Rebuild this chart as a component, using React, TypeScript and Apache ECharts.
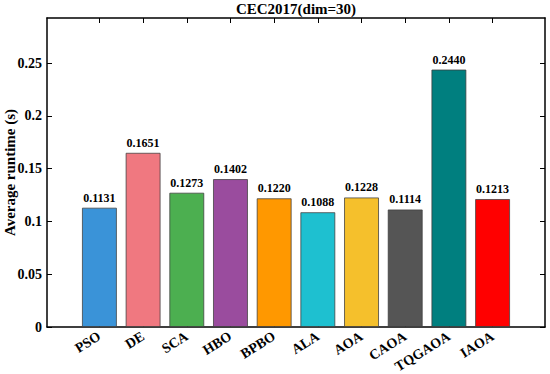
import React, { useEffect, useRef } from "react";
import * as echarts from "echarts";

const categories = ["PSO", "DE", "SCA", "HBO", "BPBO", "ALA", "AOA", "CAOA", "TQGAOA", "IAOA"];
const runtimes = [0.1131, 0.1651, 0.1273, 0.1402, 0.122, 0.1088, 0.1228, 0.1114, 0.244, 0.1213];
const barColors = ["#3a93d8", "#f07880", "#4caf50", "#9a4c9e", "#ff9800", "#1ec0d0", "#f5c02c", "#555555", "#007f7f", "#ff0000"];
const yTicks = [0, 0.05, 0.1, 0.15, 0.2, 0.25];

const FONT = "'Liberation Serif', 'Times New Roman', serif";

export default function App() {
  const ref = useRef<HTMLDivElement>(null);
  useEffect(() => {
    document.body.style.margin = "0";
    const chart = echarts.init(ref.current!, null, { renderer: "svg" });
    const positions = categories.map((_, i) => i);
    const axisLine = { show: true, onZero: false, lineStyle: { color: "#000", width: 1.5 } };
    chart.setOption({
      animation: false,
      backgroundColor: "#ffffff",
      title: {
        text: "CEC2017(dim=30)",
        left: 296,
        textAlign: "center",
        top: 1,
        padding: 0,
        textStyle: { fontFamily: FONT, fontWeight: "bold", fontSize: 15, color: "#000" },
      },
      grid: { left: 47, right: 5, top: 18, bottom: 47, outerBoundsMode: "none", containLabel: false },
      xAxis: [
        {
          type: "value",
          min: -1.2,
          max: 10.2,
          position: "bottom",
          splitLine: { show: false },
          axisLine,
          axisTick: { show: true, inside: true, length: 5, customValues: positions, lineStyle: { color: "#000" } },
          axisLabel: {
            customValues: positions,
            rotate: 32,
            margin: 8,
            fontFamily: FONT,
            fontWeight: "bold",
            fontSize: 14,
            color: "#000",
            formatter: (v: number) => categories[Math.round(v)] ?? "",
          },
        },
        {
          type: "value",
          min: -1.2,
          max: 10.2,
          position: "top",
          splitLine: { show: false },
          axisLine,
          axisTick: { show: true, inside: true, length: 5, customValues: positions, lineStyle: { color: "#000" } },
          axisLabel: { show: false },
        },
      ],
      yAxis: [
        {
          type: "value",
          min: 0,
          max: 0.2928,
          position: "left",
          name: "Average runtime (s)",
          nameLocation: "middle",
          nameGap: 30,
          nameMoveOverlap: false,
          nameTextStyle: { fontFamily: FONT, fontWeight: "bold", fontSize: 15, color: "#000" },
          splitLine: { show: false },
          axisLine,
          axisTick: { show: true, inside: true, length: 5, customValues: yTicks, lineStyle: { color: "#000" } },
          axisLabel: {
            customValues: yTicks,
            margin: 5,
            fontFamily: FONT,
            fontWeight: "bold",
            fontSize: 14,
            color: "#000",
          },
        },
        {
          type: "value",
          min: 0,
          max: 0.2928,
          position: "right",
          splitLine: { show: false },
          axisLine,
          axisTick: { show: true, inside: true, length: 5, customValues: yTicks, lineStyle: { color: "#000" } },
          axisLabel: { show: false },
        },
      ],
      series: [
        {
          type: "bar",
          xAxisIndex: 0,
          yAxisIndex: 0,
          barWidth: 35,
          data: runtimes.map((v, i) => ({
            value: [i, v],
            itemStyle: { color: barColors[i] },
          })),
          itemStyle: { borderColor: "rgba(60,60,60,0.75)", borderWidth: 1 },
          label: {
            show: true,
            position: "top",
            distance: 4,
            fontFamily: FONT,
            fontWeight: "bold",
            fontSize: 12,
            color: "#000",
            formatter: (p: any) => p.value[1].toFixed(4),
          },
        },
      ],
    });
    return () => chart.dispose();
  }, []);
  return <div ref={ref} style={{ width: 550, height: 374 }} />;
}
